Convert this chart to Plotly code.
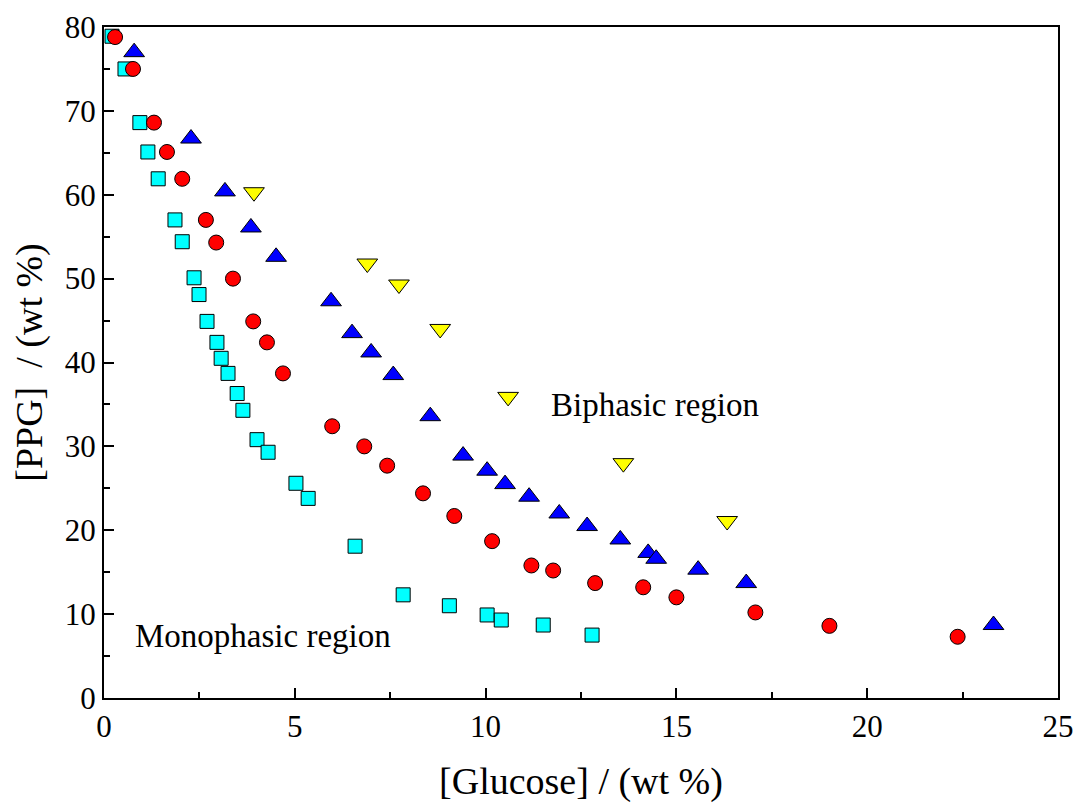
import plotly.graph_objects as go

# Cyan squares
sq_x = [0.21, 0.55, 0.94, 1.15, 1.42, 1.86, 2.05, 2.36, 2.49, 2.70, 2.96, 3.07, 3.25, 3.49, 3.64,
        4.01, 4.30, 5.03, 5.35, 6.58, 7.84, 9.05, 10.04, 10.41, 11.51, 12.79]
sq_y = [78.9, 75.0, 68.6, 65.1, 61.9, 57.0, 54.4, 50.1, 48.1, 44.9, 42.4, 40.5, 38.7, 36.3, 34.3,
        30.8, 29.3, 25.6, 23.8, 18.1, 12.3, 11.0, 9.9, 9.3, 8.7, 7.5]

# Red circles
ci_x = [0.29, 0.76, 1.31, 1.65, 2.05, 2.67, 2.94, 3.38, 3.91, 4.27, 4.69, 5.98, 6.82, 7.42, 8.36,
        9.18, 10.17, 11.20, 11.77, 12.87, 14.13, 15.00, 17.07, 19.01, 22.37]
ci_y = [78.8, 75.0, 68.6, 65.1, 61.9, 57.0, 54.3, 50.0, 44.9, 42.4, 38.7, 32.4, 30.0, 27.7, 24.4,
        21.7, 18.7, 15.8, 15.2, 13.7, 13.2, 12.0, 10.2, 8.6, 7.3]

# Blue up-triangles
tr_x = [0.79, 2.28, 3.17, 3.85, 4.51, 5.95, 6.50, 7.00, 7.58, 8.55, 9.41, 10.04, 10.51, 11.14,
        11.93, 12.66, 13.53, 14.26, 14.47, 15.57, 16.83, 23.31]
tr_y = [77.0, 66.7, 60.4, 56.1, 52.6, 47.3, 43.5, 41.2, 38.5, 33.6, 28.9, 27.1, 25.5, 24.0,
        22.0, 20.5, 18.9, 17.3, 16.6, 15.3, 13.7, 8.7]

# Yellow down-triangles
dt_x = [3.93, 6.90, 7.73, 8.81, 10.59, 13.61, 16.33]
dt_y = [60.3, 51.8, 49.3, 44.0, 35.9, 28.0, 21.1]

x_ticks = [0, 5, 10, 15, 20, 25]
y_ticks = [0, 10, 20, 30, 40, 50, 60, 70, 80]

FONT = "Liberation Serif"
line = dict(color="black", width=1)

fig = go.Figure()
fig.add_trace(go.Scatter(x=sq_x, y=sq_y, mode="markers",
                         marker=dict(symbol="square", size=14, color="#00FFFF", line=line)))
fig.add_trace(go.Scatter(x=ci_x, y=ci_y, mode="markers",
                         marker=dict(symbol="circle", size=15, color="#FF0000", line=line)))
fig.add_trace(go.Scatter(x=tr_x, y=tr_y, mode="markers",
                         marker=dict(symbol="triangle-up", size=18, color="#0000FF", line=line)))
fig.add_trace(go.Scatter(x=dt_x, y=dt_y, mode="markers",
                         marker=dict(symbol="triangle-down", size=18, color="#FFFF00", line=line)))

fig.add_annotation(x=14.45, y=34.9, text="Biphasic region", showarrow=False,
                   font=dict(family=FONT, size=33, color="black"))
fig.add_annotation(x=4.17, y=7.4, text="Monophasic region", showarrow=False,
                   font=dict(family=FONT, size=33, color="black"))

fig.update_layout(
    width=1076, height=807,
    margin=dict(l=104, r=18, t=27, b=109),
    paper_bgcolor="white", plot_bgcolor="white",
    showlegend=False,
    font=dict(family=FONT, size=31, color="black"),
)
fig.update_xaxes(
    range=[0, 25], tickvals=x_ticks, ticks="inside", ticklen=10, tickwidth=2, tickcolor="black",
    minor=dict(dtick=2.5, ticks="inside", ticklen=6, tickwidth=2, tickcolor="black"),
    showline=True, linewidth=2, linecolor="black", mirror=True, showgrid=False, zeroline=False,
    tickfont=dict(family=FONT, size=31), automargin=False,
    title=dict(text="[Glucose] / (wt %)", font=dict(family=FONT, size=38), standoff=24),
)
fig.update_yaxes(
    range=[0, 80], tickvals=y_ticks, ticks="inside", ticklen=10, tickwidth=2, tickcolor="black",
    minor=dict(dtick=5, ticks="inside", ticklen=6, tickwidth=2, tickcolor="black"),
    showline=True, linewidth=2, linecolor="black", mirror=True, showgrid=False, zeroline=False,
    tickfont=dict(family=FONT, size=31), automargin=False,
    title=dict(text="[PPG]  / (wt %)", font=dict(family=FONT, size=38), standoff=10),
)

fig.write_html("out.html")
